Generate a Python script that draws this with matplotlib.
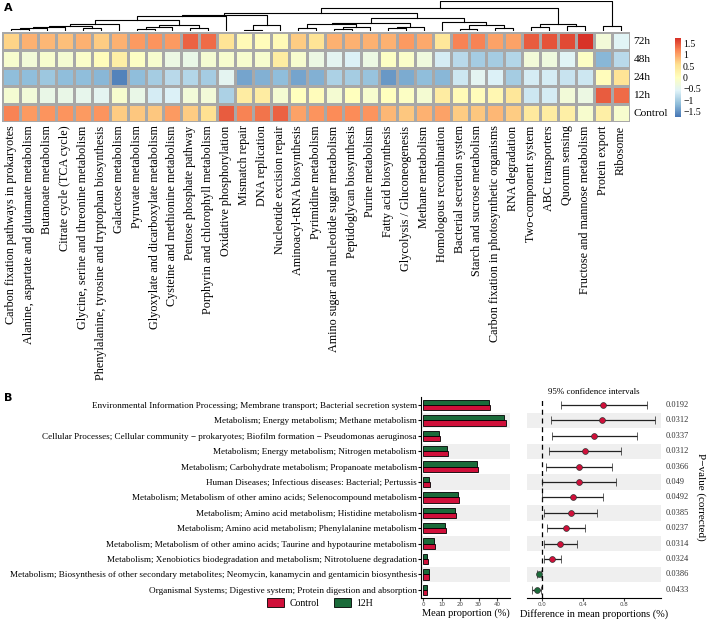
import numpy as np
import matplotlib
matplotlib.use("Agg")
import matplotlib.pyplot as plt
from matplotlib.colors import LinearSegmentedColormap
from matplotlib.patches import Patch

# ---------------- Panel A data ----------------
pathways = [
    "Carbon fixation pathways in prokaryotes",
    "Alanine, aspartate and glutamate metabolism",
    "Butanoate metabolism",
    "Citrate cycle (TCA cycle)",
    "Glycine, serine and threonine metabolism",
    "Phenylalanine, tyrosine and tryptophan biosynthesis",
    "Galactose metabolism",
    "Pyruvate metabolism",
    "Glyoxylate and dicarboxylate metabolism",
    "Cysteine and methionine metabolism",
    "Pentose phosphate pathway",
    "Porphyrin and chlorophyll metabolism",
    "Oxidative phosphorylation",
    "Mismatch repair",
    "DNA replication",
    "Nucleotide excision repair",
    "Aminoacyl-tRNA biosynthesis",
    "Pyrimidine metabolism",
    "Amino sugar and nucleotide sugar metabolism",
    "Peptidoglycan biosynthesis",
    "Purine metabolism",
    "Fatty acid biosynthesis",
    "Glycolysis / Gluconeogenesis",
    "Methane metabolism",
    "Homologous recombination",
    "Bacterial secretion system",
    "Starch and sucrose metabolism",
    "Carbon fixation in photosynthetic organisms",
    "RNA degradation",
    "Two-component system",
    "ABC transporters",
    "Quorum sensing",
    "Fructose and mannose metabolism",
    "Protein export",
    "Ribosome",
]
samples = ["72h", "48h", "24h", "12h", "Control"]

z_72h = [0.65, 0.9, 0.85, 0.8, 0.9, 0.7, 0.9, 1.05, 1.1, 1.05, 1.4, 1.35,
         0.5, 0.1, 0.05, 0.1, 0.7, 0.5, 0.9, 0.9, 0.9, 0.9, 1.05, 0.95,
         0.45, 1.2, 1.2, 1.0, 1.0, 1.45, 1.5, 1.55, 1.7, -0.25, -0.55]
z_48h = [-0.15, -0.25, -0.15, -0.2, -0.1, 0.05, 0.3, -0.05, -0.15, -0.35, -0.4, -0.2,
         -0.15, -0.15, -0.15, 0.35, -0.15, -0.35, -0.5, -0.6, -0.35, -0.05, -0.1, -0.3,
         -0.65, -0.85, -1.0, -1.0, -0.9, -0.25, -0.3, -0.55, -0.05, -1.2, -0.85]
z_24h = [-1.15, -1.15, -1.05, -1.15, -1.15, -1.2, -1.6, -1.15, -1.0, -0.85, -0.9, -1.0,
         -0.5, -1.35, -1.25, -1.15, -1.35, -1.25, -0.95, -1.0, -1.1, -1.45, -1.3, -1.15,
         -1.2, -0.7, -0.5, -0.6, -1.0, -0.65, -0.65, -0.75, -0.7, 0.05, 0.5]
z_12h = [-0.2, -0.25, -0.4, -0.4, -0.45, -0.5, -0.15, -0.4, -0.65, -0.6, -0.25, -0.25,
         -0.95, 0.35, 0.35, -0.2, 0.0, 0.05, -0.2, 0.0, -0.15, 0.0, -0.05, -0.2,
         0.35, 0.1, 0.05, 0.15, 0.45, -0.7, -0.65, -0.25, -0.35, 1.45, 1.35]
z_control = [1.2, 1.05, 1.1, 1.1, 1.05, 1.1, 0.7, 0.75, 0.75, 1.05, 0.7, 0.55,
             1.45, 1.2, 1.3, 1.4, 1.0, 1.1, 1.15, 1.15, 1.1, 0.85, 0.75, 0.9,
             1.0, 0.7, 0.75, 0.85, 0.7, 0.4, 0.35, 0.3, -0.15, 0.3, -0.15]

# column dendrogram merges: (child_a, child_b, height); leaves 0..34, clusters 35+ in order
col_merges = [
    (0, 1, 1.5),      # 35
    (35, 2, 2.5),     # 36
    (36, 3, 3.5),     # 37
    (4, 5, 3.0),      # 38
    (37, 38, 5.0),    # 39
    (39, 6, 6.7),     # 40
    (7, 8, 1.7),      # 41
    (41, 9, 3.5),     # 42
    (10, 11, 3.0),    # 43
    (42, 43, 5.5),    # 44
    (40, 44, 11.0),   # 45
    (45, 12, 14.5),   # 46
    (13, 14, 1.0),    # 47
    (47, 15, 6.0),    # 48
    (46, 48, 16.0),   # 49
    (16, 17, 3.0),    # 50
    (18, 19, 2.0),    # 51
    (51, 20, 3.5),    # 52
    (50, 52, 6.5),    # 53
    (21, 22, 2.5),    # 54
    (54, 23, 4.0),    # 55
    (53, 55, 8.0),    # 56
    (25, 26, 2.0),    # 57
    (27, 28, 3.0),    # 58
    (57, 58, 6.0),    # 59
    (24, 59, 8.5),    # 60
    (56, 60, 12.7),   # 61
    (49, 61, 17.7),   # 62
    (29, 30, 4.0),    # 63
    (31, 32, 5.0),    # 64
    (63, 64, 7.0),    # 65
    (62, 65, 22.0),   # 66
    (33, 34, 4.5),    # 67
    (66, 67, 29.0),   # 68
]

# ---------------- Panel B data ----------------
kegg_terms = [
    "Environmental Information Processing; Membrane transport; Bacterial secretion system",
    "Metabolism; Energy metabolism; Methane metabolism",
    "Cellular Processes; Cellular community \u2212 prokaryotes; Biofilm formation \u2212 Pseudomonas aeruginosa",
    "Metabolism; Energy metabolism; Nitrogen metabolism",
    "Metabolism; Carbohydrate metabolism; Propanoate metabolism",
    "Human Diseases; Infectious diseases: Bacterial; Pertussis",
    "Metabolism; Metabolism of other amino acids; Selenocompound metabolism",
    "Metabolism; Amino acid metabolism; Histidine metabolism",
    "Metabolism; Amino acid metabolism; Phenylalanine metabolism",
    "Metabolism; Metabolism of other amino acids; Taurine and hypotaurine metabolism",
    "Metabolism; Xenobiotics biodegradation and metabolism; Nitrotoluene degradation",
    "Metabolism; Biosynthesis of other secondary metabolites; Neomycin, kanamycin and gentamicin biosynthesis",
    "Organismal Systems; Digestive system; Protein digestion and absorption",
]
mean_control = [36.3, 44.7, 9.4, 13.3, 29.6, 3.8, 19.5, 17.7, 12.3, 6.7, 2.5, 3.2, 2.1]
mean_12h = [35.7, 44.0, 8.8, 12.8, 29.0, 3.4, 19.1, 17.1, 11.7, 6.1, 2.3, 3.4, 2.3]
diff_mean = [0.60, 0.59, 0.51, 0.415, 0.36, 0.36, 0.30, 0.28, 0.23, 0.18, 0.10, -0.03, -0.05]
ci_low = [0.19, 0.085, 0.097, 0.068, 0.042, 0.0, 0.0, 0.02, 0.048, 0.02, 0.015, -0.05, -0.095]
ci_high = [1.02, 1.10, 0.93, 0.77, 0.68, 0.72, 0.60, 0.54, 0.42, 0.34, 0.19, -0.01, -0.01]
p_values = ["0.0192", "0.0312", "0.0337", "0.0312", "0.0366", "0.049", "0.0492",
            "0.0385", "0.0237", "0.0314", "0.0324", "0.0386", "0.0433"]

# ---------------- figure ----------------
W, H = 708, 621
fig = plt.figure(figsize=(W / 100, H / 100), dpi=100)
serif = ["Liberation Serif", "DejaVu Serif"]


def box(x0, y0, x1, y1):
    return [x0 / W, 1 - y1 / H, (x1 - x0) / W, (y1 - y0) / H]


# ---- heatmap ----
Z = np.array([z_72h, z_48h, z_24h, z_12h, z_control])
cmap = LinearSegmentedColormap.from_list(
    "rdylbu", ["#4575B4", "#91BFDB", "#E0F3F8", "#FFFFBF", "#FEE090", "#FC8D59", "#D73027"])
axh = fig.add_axes(box(2, 32, 630, 122))
mesh = axh.pcolormesh(Z, cmap=cmap, vmin=-1.72, vmax=1.72, edgecolors="#A8A8A8", linewidth=0.8)
axh.set_xlim(0, len(pathways))
axh.set_ylim(len(samples), 0)
axh.set_xticks(np.arange(len(pathways)) + 0.5)
axh.set_xticklabels(pathways, rotation=90, fontsize=8.7, family=serif)
axh.set_yticks(np.arange(len(samples)) + 0.5)
axh.set_yticklabels(samples, fontsize=8.2, family=serif)
axh.yaxis.tick_right()
axh.tick_params(length=0, pad=2.5)
for s in axh.spines.values():
    s.set_visible(False)

# ---- dendrogram ----
axd = fig.add_axes(box(2, 1, 630, 31))
n = len(pathways)
xpos = {i: i + 0.5 for i in range(n)}
hts = {i: 0.0 for i in range(n)}
for k, (a, b, h) in enumerate(col_merges):
    xa, xb = xpos[a], xpos[b]
    axd.plot([xa, xa, xb, xb], [hts[a], h, h, hts[b]], color="black", lw=0.8)
    xpos[n + k] = (xa + xb) / 2
    hts[n + k] = h
axd.set_xlim(0, n)
axd.set_ylim(0, max(h for _, _, h in col_merges) + 0.3)
axd.axis("off")

# ---- colorbar ----
axc = fig.add_axes(box(675, 38, 681, 117))
cb = fig.colorbar(mesh, cax=axc, ticks=[-1.5, -1, -0.5, 0, 0.5, 1, 1.5])
cb.ax.set_yticklabels(["\u22121.5", "\u22121", "\u22120.5", "0", "0.5", "1", "1.5"], family=serif, fontsize=7)
cb.ax.tick_params(length=0, pad=1.5)
cb.outline.set_visible(False)

fig.text(4 / W, 1 - 8 / H, "A", fontsize=8, fontweight="bold", va="center", ha="left")
fig.text(4 / W, 1 - 398 / H, "B", fontsize=8, fontweight="bold", va="center", ha="left")

# ---- bar panel ----
nr = len(kegg_terms)
ypos = np.arange(nr)
red = "#D0103A"
green = "#1B6B3A"
axb = fig.add_axes(box(421, 397, 510, 598))
for i in ypos:
    if i % 2 == 1:
        axb.axhspan(i - 0.5, i + 0.5, color="#EFEFEF", zorder=0, lw=0)
axb.barh(ypos - 0.17, mean_12h, height=0.34, color=green, edgecolor="black", linewidth=0.6, zorder=2)
axb.barh(ypos + 0.17, mean_control, height=0.34, color=red, edgecolor="black", linewidth=0.6, zorder=2)
axb.set_ylim(nr - 0.47, -0.52)
axb.set_xlim(-1.1, 47)
axb.set_yticks(ypos)
axb.set_yticklabels(kegg_terms, fontsize=6.6, family=serif)
axb.set_xticks([0, 10, 20, 30, 40])
axb.tick_params(axis="x", labelsize=4, length=2, pad=1, colors="#444444")
axb.tick_params(axis="y", length=2, pad=1)
for s in ["top", "right"]:
    axb.spines[s].set_visible(False)
axb.set_xlabel("Mean proportion (%)", fontsize=7.5, family=serif, labelpad=1)

# ---- CI panel ----
axe = fig.add_axes(box(527, 397, 661, 598))
for i in ypos:
    if i % 2 == 1:
        axe.axhspan(i - 0.5, i + 0.5, color="#EFEFEF", zorder=0, lw=0)
axe.axvline(0, color="black", lw=0.9, ls=(0, (4, 3)), zorder=1)
for i in ypos:
    col = red if diff_mean[i] > 0 else green
    axe.errorbar(diff_mean[i], i, xerr=[[diff_mean[i] - ci_low[i]], [ci_high[i] - diff_mean[i]]],
                 fmt="o", color="black", ecolor="#222222", elinewidth=0.9, capsize=3, capthick=0.9,
                 markersize=4.2, markerfacecolor=col, markeredgecolor="#333333", markeredgewidth=0.5,
                 zorder=3)
    axe.text(1.035, i, p_values[i], fontsize=6, family=serif, va="center", ha="left", color="#333333",
             transform=axe.get_yaxis_transform())
axe.set_ylim(nr - 0.47, -0.52)
axe.set_xlim(-0.146, 1.161)
axe.set_yticks([])
axe.set_xticks([0.0, 0.4, 0.8])
axe.set_xticklabels(["0.0", "0.4", "0.8"])
axe.tick_params(axis="x", labelsize=4, length=2, pad=1, colors="#444444")
for s in ["top", "right", "left"]:
    axe.spines[s].set_visible(False)
axe.set_xlabel("Difference in mean proportions (%)", fontsize=7.5, family=serif, labelpad=1)
axe.set_title("95% confidence intervals", fontsize=6.5, family=serif, pad=2)

fig.text(701 / W, 1 - 497 / H, "P\u2212value (corrected)", rotation=270, fontsize=8, family=serif,
         va="center", ha="center")

fig.legend(handles=[Patch(facecolor=red, edgecolor="black", lw=0.6, label="Control"),
                    Patch(facecolor=green, edgecolor="black", lw=0.6, label="12H")],
           loc="center", bbox_to_anchor=(320 / W, 1 - 603 / H), ncol=2, frameon=False,
           prop={"family": serif, "size": 7}, handlelength=1.8, handleheight=1.0, columnspacing=1.5,
           handletextpad=0.5)

fig.savefig("out.png", dpi=100)
